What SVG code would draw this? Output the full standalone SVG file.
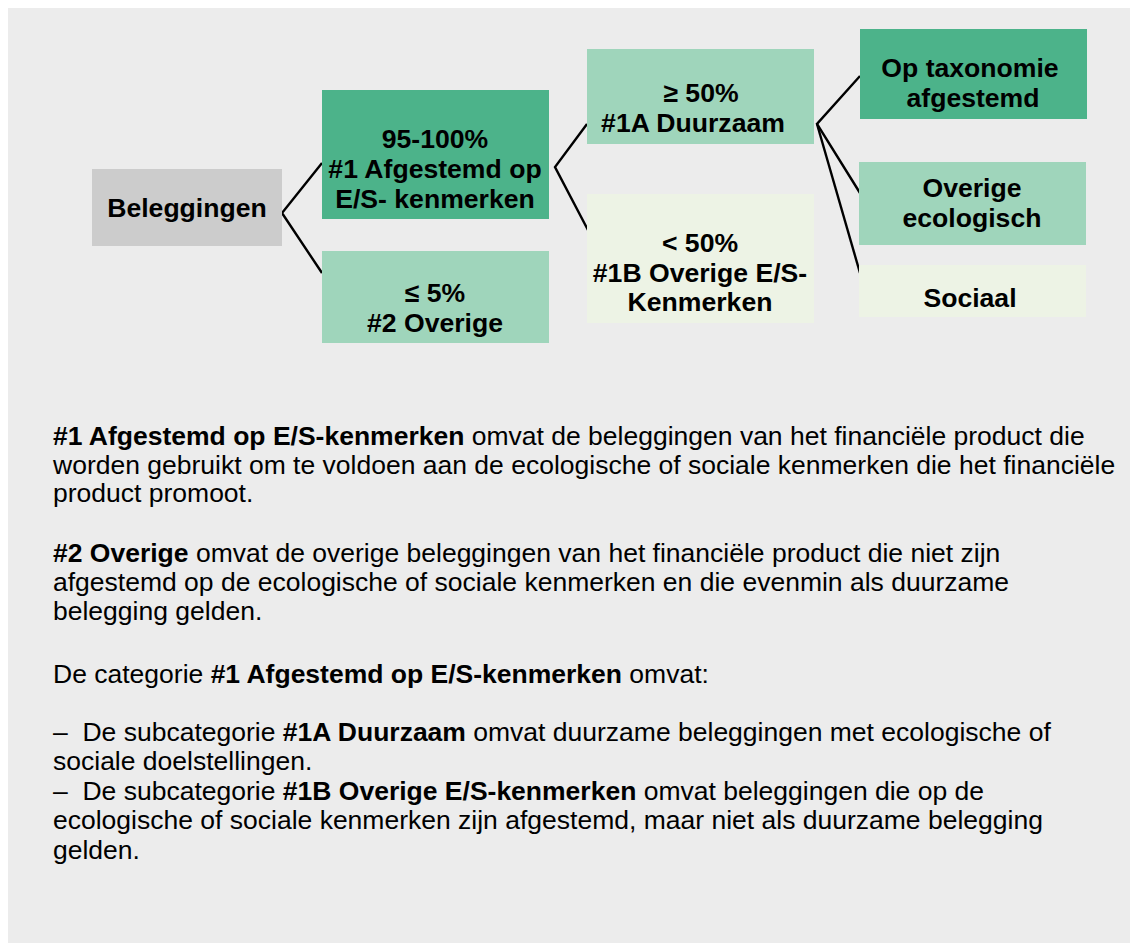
<svg xmlns="http://www.w3.org/2000/svg" width="1130" height="943" viewBox="0 0 1130 943">
<style>
.bt{font-family:"Liberation Sans",Arial,sans-serif;font-size:26.6px;font-weight:bold;fill:#000;text-anchor:middle}
.tx{font-family:"Liberation Sans",Arial,sans-serif;font-size:26.5px;fill:#000}
.b{font-weight:bold}
.ln{stroke:#000;stroke-width:2.4;fill:none;stroke-linejoin:miter}
.dk{fill:#4cb38a}
.md{fill:#9fd5bb}
.lt{fill:#edf3e5}
.gr{fill:#cccccc}
</style>
<rect x="0" y="0" width="1130" height="943" fill="#ffffff"/>
<rect x="8" y="8" width="1122" height="935" fill="#ececec"/>
<g id="connectors">
<polyline class="ln" points="322,163 282,213 322,273"/>
<polyline class="ln" points="587,124 555,167 589,232"/>
<polyline class="ln" points="860,76 817,124 860,193"/>
<polyline class="ln" points="817,124 860,273"/>
</g>
<g id="beleggingen">
<rect class="gr" x="92" y="169" width="190" height="77"/>
<text class="bt" x="187" y="217">Beleggingen</text>
</g>
<g id="afgestemd">
<rect class="dk" x="322" y="90" width="227" height="129"/>
<text class="bt" x="435" y="148">95-100%</text>
<text class="bt" x="435" y="178">#1 Afgestemd op</text>
<text class="bt" x="435" y="208">E/S- kenmerken</text>
</g>
<g id="overige2">
<rect class="md" x="322" y="251" width="227" height="92"/>
<text class="bt" x="435" y="302">≤ 5%</text>
<text class="bt" x="435" y="332">#2 Overige</text>
</g>
<g id="duurzaam">
<rect class="md" x="587" y="49" width="227" height="95"/>
<text class="bt" x="701" y="102">≥ 50%</text>
<text class="bt" x="693" y="132">#1A Duurzaam</text>
</g>
<g id="overigeES">
<rect class="lt" x="587" y="194" width="227" height="129"/>
<text class="bt" x="700" y="252">&lt; 50%</text>
<text class="bt" x="700" y="282">#1B Overige E/S-</text>
<text class="bt" x="700" y="311">Kenmerken</text>
</g>
<g id="taxonomie">
<rect class="dk" x="860" y="29" width="227" height="90"/>
<text class="bt" x="970" y="77">Op taxonomie</text>
<text class="bt" x="973" y="107">afgestemd</text>
</g>
<g id="ecologisch">
<rect class="md" x="859" y="162" width="227" height="83"/>
<text class="bt" x="972" y="197">Overige</text>
<text class="bt" x="972" y="227">ecologisch</text>
</g>
<g id="sociaal">
<rect class="lt" x="859" y="265" width="227" height="52"/>
<text class="bt" x="970" y="307">Sociaal</text>
</g>
<g id="legend">
<text class="tx" x="53" y="445"><tspan class="b">#1 Afgestemd op E/S-kenmerken</tspan> omvat de beleggingen van het financiële product die</text>
<text class="tx" x="53" y="474">worden gebruikt om te voldoen aan de ecologische of sociale kenmerken die het financiële</text>
<text class="tx" x="53" y="502">product promoot.</text>
<text class="tx" x="53" y="562"><tspan class="b">#2 Overige</tspan> omvat de overige beleggingen van het financiële product die niet zijn</text>
<text class="tx" x="53" y="591">afgestemd op de ecologische of sociale kenmerken en die evenmin als duurzame</text>
<text class="tx" x="53" y="620">belegging gelden.</text>
<text class="tx" x="53" y="683">De categorie <tspan class="b">#1 Afgestemd op E/S-kenmerken</tspan> omvat:</text>
<text class="tx" x="53" y="741">–&#160; De subcategorie <tspan class="b">#1A Duurzaam</tspan> omvat duurzame beleggingen met ecologische of</text>
<text class="tx" x="53" y="770">sociale doelstellingen.</text>
<text class="tx" x="53" y="800">–&#160; De subcategorie <tspan class="b">#1B Overige E/S-kenmerken</tspan> omvat beleggingen die op de</text>
<text class="tx" x="53" y="829">ecologische of sociale kenmerken zijn afgestemd, maar niet als duurzame belegging</text>
<text class="tx" x="53" y="859">gelden.</text>
</g>
</svg>
